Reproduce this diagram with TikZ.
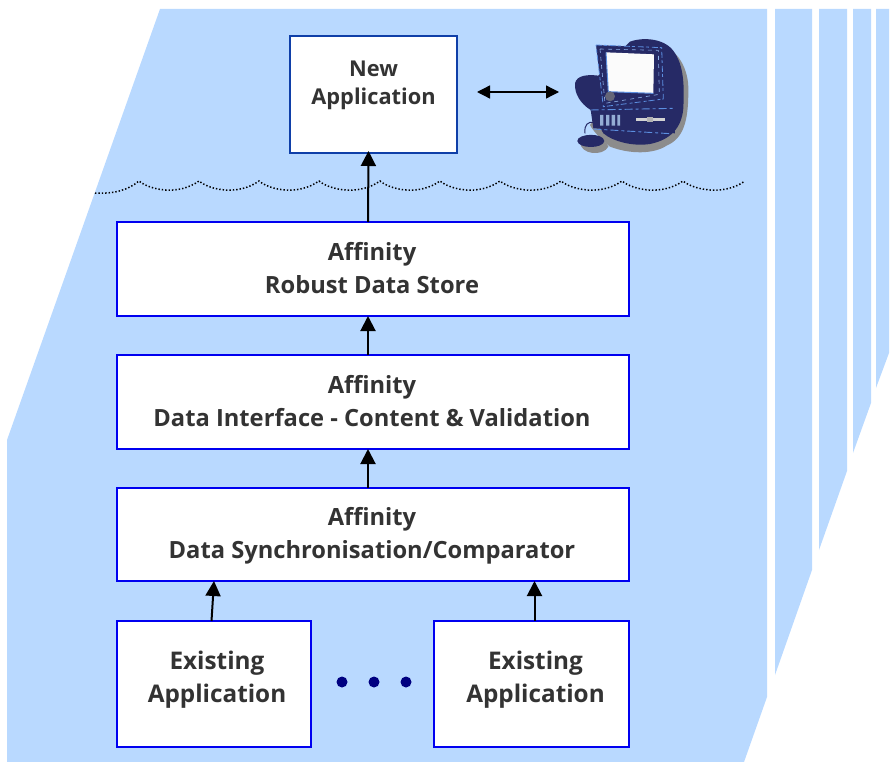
\documentclass[tikz,border=0pt]{standalone}
\usepackage{fontspec}
\setmainfont{Open Sans}
\usetikzlibrary{arrows.meta}
\definecolor{bluebg}{HTML}{B9D9FF}
\definecolor{boxline}{HTML}{0000F0}
\definecolor{topline}{HTML}{0F3FA8}
\definecolor{txt}{HTML}{333333}
\definecolor{navy}{HTML}{262A66}
\definecolor{dotnavy}{HTML}{000080}
\definecolor{glint}{HTML}{5C8FE0}
\tikzset{
  band/.style={fill=bluebg,draw=none},
  box/.style={draw=boxline,line width=2pt,fill=white,inner sep=0pt,outer sep=0pt,anchor=north west},
  caption/.style={text=txt,font=\fontsize{23.7}{33}\selectfont\bfseries,align=center,inner sep=0pt},
  flow/.style={black,line width=2pt,-{Triangle[length=15pt,width=15pt]}},
  flowboth/.style={black,line width=1.3pt,{Triangle[length=13pt,width=13pt]}-{Triangle[length=13pt,width=13pt]}},
  wave/.style={black,line width=1.5pt,dash pattern=on 1.4pt off 2pt}
}
\begin{document}
\begin{tikzpicture}[x=1pt,y=-1pt]
\useasboundingbox (0,0) rectangle (891,762);
% background bands
\fill[band] (160,9) -- (767,9) -- (767,697) -- (744,762) -- (7,762) -- (7,440) -- cycle;
\fill[band] (775,9) -- (812,9) -- (812,570) -- (775,675) -- cycle;
\fill[band] (819,9) -- (847,9) -- (847,471) -- (819,550) -- cycle;
\fill[band] (853,9) -- (871,9) -- (871,403) -- (853,453) -- cycle;
\fill[band] (876,9) -- (889,9) -- (889,353) -- (876,388) -- cycle;
% water line
\draw[wave] (95,193)
  .. controls (115,194) and (128,190) .. (139,181)
  .. controls (150,190) and (178,196) .. (199,181)
  .. controls (210,190) and (238,196) .. (259,181)
  .. controls (270,190) and (298,196) .. (319,181)
  .. controls (330,190) and (359,196) .. (380,181)
  .. controls (391,190) and (419,196) .. (440,181)
  .. controls (451,190) and (479,196) .. (500,181)
  .. controls (511,190) and (540,196) .. (561,181)
  .. controls (572,190) and (601,196) .. (622,181)
  .. controls (633,190) and (662,196) .. (683,181)
  .. controls (694,190) and (724,196) .. (745,181);
% boxes
\node[box,draw=topline,minimum width=167pt,minimum height=117pt,label={[caption,yshift=9pt,font=\fontsize{21.8}{28}\selectfont\bfseries]center:New\\Application}] (newapp) at (290,36) {};
\node[box,minimum width=512pt,minimum height=94pt,label={[caption,xshift=-1pt,yshift=0.5pt]center:Affinity\\Robust Data Store}] (store) at (117,222) {};
\node[box,minimum width=512pt,minimum height=94pt,label={[caption,xshift=-1pt,yshift=1pt]center:Affinity\\Data Interface - Content \& Validation}] (iface) at (117,355) {};
\node[box,minimum width=512pt,minimum height=93pt,label={[caption,xshift=-1pt,yshift=-1pt]center:Affinity\\Data Synchronisation/Comparator}] (sync) at (117,488) {};
\node[box,minimum width=194pt,minimum height=126pt,label={[caption,xshift=3pt,yshift=4pt,font=\fontsize{24.3}{33}\selectfont\bfseries]center:Existing\\Application}] (exa) at (117,621) {};
\node[box,minimum width=195pt,minimum height=126pt,label={[caption,xshift=4pt,yshift=4pt,font=\fontsize{24.3}{33}\selectfont\bfseries]center:Existing\\Application}] (exb) at (434,621) {};
% arrows
\draw[flow] ([xshift=-5pt]store.north) -- ([xshift=-5pt,yshift=2pt]newapp.south);
\draw[flow] ([xshift=-5pt]iface.north) -- ([xshift=-5pt]store.south);
\draw[flow] ([xshift=-5pt]sync.north) -- ([xshift=-5pt]iface.south);
\draw[flow] ([xshift=-2.5pt]exa.north) -- ([xshift=-159pt]sync.south);
\draw[flow] ([xshift=3pt]exb.north) -- ([xshift=161.5pt]sync.south);
\coordinate (pcl) at (477,92);
\coordinate (pcr) at (559,92);
\draw[flowboth] (pcl) -- (pcr);
% dots
\fill[dotnavy] (342,682) circle (5.5pt) (374,682) circle (5.5pt) (406,682) circle (5.5pt);
% computer
\begin{scope}[shift={(560,25)},x=0.3333pt,y=-0.3333pt]
\fill[gray!90] (300,60) .. controls (350,70) and (388,130) .. (385,200) .. controls (385,290) and (370,340) .. (320,362) .. controls (280,388) and (210,388) .. (150,365) .. controls (130,350) and (100,320) .. (90,300) -- (200,150) -- cycle;
\fill[gray!90] (60,350) .. controls (60,390) and (130,395) .. (145,365) .. controls (140,340) and (70,325) .. (60,350) -- cycle;
\fill[navy] (210,50) .. controls (250,35) and (320,40) .. (345,85) .. controls (375,130) and (372,200) .. (370,250) .. controls (365,310) and (330,345) .. (270,357) .. controls (220,365) and (160,350) .. (130,325) -- (92,255) .. controls (60,235) and (43,205) .. (45,175) .. controls (50,150) and (85,148) .. (115,152) -- (180,80) -- cycle;
\fill[navy] (52,348) .. controls (52,325) and (130,322) .. (133,348) .. controls (130,372) and (55,372) .. (52,348) -- cycle;
\draw[navy,line width=1pt] (75,325) .. controls (72,298) and (85,290) .. (100,292);
\fill[navy] (108,60) -- (305,68) -- (310,215) -- (130,245) -- cycle;
\draw[glint,line width=0.8pt,dash pattern=on 6pt off 2pt on 3pt off 3pt] (108,60) -- (305,68) -- (310,222) -- (130,245) -- cycle;
\draw[glint!70,line width=0.6pt,dash pattern=on 4pt off 4pt] (120,72) -- (295,76) -- (298,208) -- (135,235) -- cycle;
\fill[white!97!gray] (138,82) -- (282,88) -- (280,205) -- (145,200) -- cycle;
\draw[glint,line width=1pt] (138,82) -- (145,200) -- (280,205);
\fill[navy] (92,255) -- (345,250) -- (345,325) -- (100,310) -- cycle;
\draw[glint,line width=0.9pt,dash pattern=on 8pt off 3pt on 3pt off 3pt] (92,255) -- (345,250) (100,312) -- (330,326);
\fill[gray!30!glint!70!white] (120,270) rectangle (130,302) (138,270) rectangle (148,302) (155,270) rectangle (165,302) (172,270) rectangle (180,302);
\fill[gray!35!white] (228,280) rectangle (316,288);
\fill[gray!60] (262,275) rectangle (278,292);
\fill[gray!70!navy] (150,214) circle (5pt);
\end{scope}
\end{tikzpicture}
\end{document}
